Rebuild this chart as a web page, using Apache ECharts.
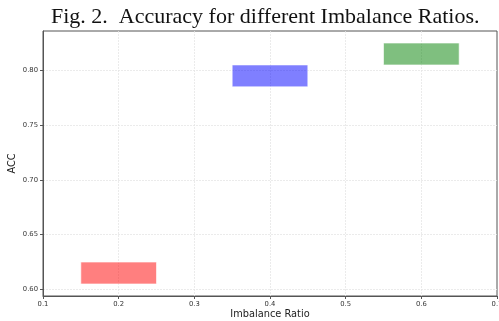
<!DOCTYPE html>
<html>
<head>
<meta charset="utf-8">
<script src="https://cdn.jsdelivr.net/npm/echarts@6/dist/echarts.min.js"></script>
<style>
  html, body { margin: 0; padding: 0; background: #fff; }
  #main { width: 499px; height: 321px; }
</style>
</head>
<body>
<div id="main"></div>
<script>
// data
const ratioStart = [0.15, 0.35, 0.55];
const ratioEnd = [0.25, 0.45, 0.65];
const accLow = [0.605, 0.785, 0.805];
const accHigh = [0.625, 0.805, 0.825];
const barColors = ["rgba(255,0,0,0.5)", "rgba(0,0,255,0.5)", "rgba(0,128,0,0.5)"];
const yTicks = [0.6, 0.65, 0.7, 0.75, 0.8];

const boxes = ratioStart.map((s, i) => [s, ratioEnd[i], accLow[i], accHigh[i]]);

const myChart = echarts.init(document.getElementById("main"));

const option = {
  animation: false,
  title: {
    text: "Fig. 2.  Accuracy for different Imbalance Ratios.",
    left: 46,
    top: 1,
    textStyle: {
      fontFamily: "Liberation Serif",
      fontSize: 22,
      fontWeight: "normal",
      color: "#111",
    },
  },
  grid: {
    left: 43,
    right: 2,
    top: 31,
    bottom: 25,
    outerBoundsMode: "none",
    containLabel: false,
    show: true,
    borderColor: "#555",
    borderWidth: 1,
  },
  xAxis: {
    type: "value",
    min: 0.1,
    max: 0.7,
    interval: 0.1,
    name: "Imbalance Ratio",
    nameLocation: "middle",
    nameGap: 13,
    nameMoveOverlap: false,
    nameTextStyle: { fontFamily: "DejaVu Sans", fontSize: 9.8, color: "#222" },
    axisLine: { lineStyle: { color: "#555" } },
    axisTick: { length: 3, lineStyle: { color: "#555" } },
    axisLabel: {
      fontFamily: "DejaVu Sans",
      fontSize: 6.8,
      color: "#333",
      margin: 5,
      formatter: (v) => v.toFixed(1),
    },
    splitLine: {
      show: true,
      showMinLine: false,
      showMaxLine: false,
      lineStyle: { color: "#e6e6e6", type: [2, 1], width: 0.8 },
    },
  },
  yAxis: {
    type: "value",
    min: 0.594,
    max: 0.836,
    name: "ACC",
    nameLocation: "middle",
    nameGap: 26,
    nameMoveOverlap: false,
    nameTextStyle: { fontFamily: "DejaVu Sans", fontSize: 9.8, color: "#222" },
    axisLine: { show: true, lineStyle: { color: "#555" } },
    axisTick: { show: true, length: 3, lineStyle: { color: "#555" }, customValues: yTicks },
    axisLabel: {
      fontFamily: "DejaVu Sans",
      fontSize: 6.8,
      color: "#333",
      margin: 5,
      customValues: yTicks,
      formatter: (v) => v.toFixed(2),
    },
    splitLine: { show: true, lineStyle: { color: "#e6e6e6", type: [2, 1], width: 0.8 } },
  },
  series: [
    {
      type: "custom",
      data: boxes,
      encode: { x: [0, 1], y: [2, 3] },
      renderItem: function (params, api) {
        const p0 = api.coord([api.value(0), api.value(3)]);
        const p1 = api.coord([api.value(1), api.value(2)]);
        return {
          type: "rect",
          shape: { x: p0[0], y: p0[1], width: p1[0] - p0[0], height: p1[1] - p0[1] },
          style: { fill: barColors[params.dataIndex], stroke: "rgba(255,255,255,0.6)", lineWidth: 1 },
        };
      },
    },
  ],
};

myChart.setOption(option);
</script>
</body>
</html>
